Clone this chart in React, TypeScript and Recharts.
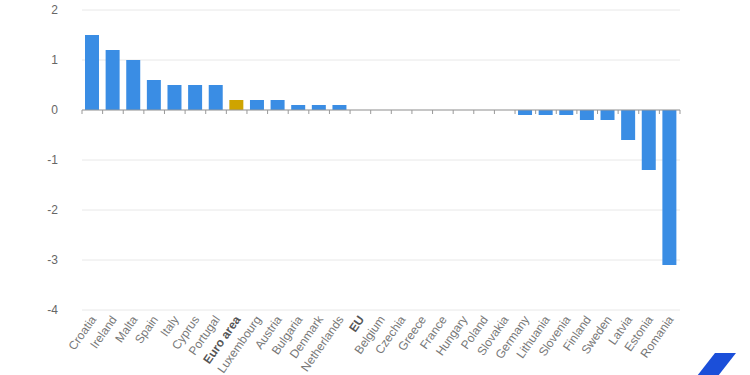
import React from 'react';
import { BarChart, Bar, XAxis, YAxis, CartesianGrid, ReferenceLine, Cell } from 'recharts';

const countries = [
  'Croatia', 'Ireland', 'Malta', 'Spain', 'Italy', 'Cyprus', 'Portugal', 'Euro area',
  'Luxembourg', 'Austria', 'Bulgaria', 'Denmark', 'Netherlands', 'EU', 'Belgium',
  'Czechia', 'Greece', 'France', 'Hungary', 'Poland', 'Slovakia', 'Germany',
  'Lithuania', 'Slovenia', 'Finland', 'Sweden', 'Latvia', 'Estonia', 'Romania',
];
const values = [
  1.5, 1.2, 1.0, 0.6, 0.5, 0.5, 0.5, 0.2,
  0.2, 0.2, 0.1, 0.1, 0.1, 0, 0,
  0, 0, 0, 0, 0, 0, -0.1,
  -0.1, -0.1, -0.2, -0.2, -0.6, -1.2, -3.1,
];
const aggregates = ['Euro area', 'EU'];
const yTicks = [-4, -3, -2, -1, 0, 1, 2];

const BLUE = '#3a8de4';
const GOLD = '#cfa400';
const FONT = '"Liberation Sans", Arial, sans-serif';

const data = countries.map((country, i) => ({ country, value: values[i] }));

const XTick = (props: any) => {
  const { x, y, payload } = props;
  const bold = aggregates.includes(payload.value);
  return (
    <g transform={`translate(${x + 1},${y + 7}) rotate(-55)`}>
      <text
        textAnchor="end"
        dy="0.35em"
        fontSize={12}
        fontFamily={FONT}
        fontWeight={bold ? 700 : 400}
        fill={bold ? '#555' : '#777'}
      >
        {payload.value}
      </text>
    </g>
  );
};

const ZeroLine = (props: any) => {
  const { x1, y1, x2, y2 } = props;
  const n = countries.length;
  const step = (x2 - x1) / n;
  const marks = [] as any[];
  for (let i = 0; i <= n; i++) {
    const xx = x1 + i * step;
    marks.push(<line key={i} x1={xx} x2={xx} y1={y1} y2={y1 + 4} stroke="#999" strokeWidth={1} />);
  }
  return (
    <g>
      <line x1={x1} y1={y1} x2={x2} y2={y2} stroke="#999" strokeWidth={1} />
      {marks}
    </g>
  );
};

export default function App() {
  return (
    <div style={{ position: 'absolute', left: 0, top: 0, width: 750, height: 375, background: '#fff', overflow: 'hidden' }}>
      <BarChart
        width={750}
        height={375}
        data={data}
        margin={{ top: 10, right: 70, left: 0, bottom: 0 }}
        barSize={14}
      >
        <CartesianGrid vertical={false} stroke="#e8e8e8" />
        <YAxis
          width={82}
          domain={[-4, 2]}
          ticks={yTicks}
          axisLine={false}
          tickLine={false}
          tickSize={0}
          tickMargin={24}
          tick={{ fontSize: 12, fill: '#666', fontFamily: FONT }}
        />
        <XAxis
          dataKey="country"
          height={65}
          interval={0}
          axisLine={false}
          tickLine={false}
          tickSize={0}
          tickMargin={0}
          tick={<XTick />}
        />
        <Bar dataKey="value" isAnimationActive={false}>
          {data.map((d) => (
            <Cell key={d.country} fill={d.country === 'Euro area' ? GOLD : BLUE} />
          ))}
        </Bar>
        <ReferenceLine y={0} shape={<ZeroLine />} />
      </BarChart>
      <svg width={750} height={375} style={{ position: 'absolute', left: 0, top: 0, pointerEvents: 'none' }}>
        <polygon points="715,353 736,353 718,376 697,376" fill="#1b4fd9" />
      </svg>
    </div>
  );
}
